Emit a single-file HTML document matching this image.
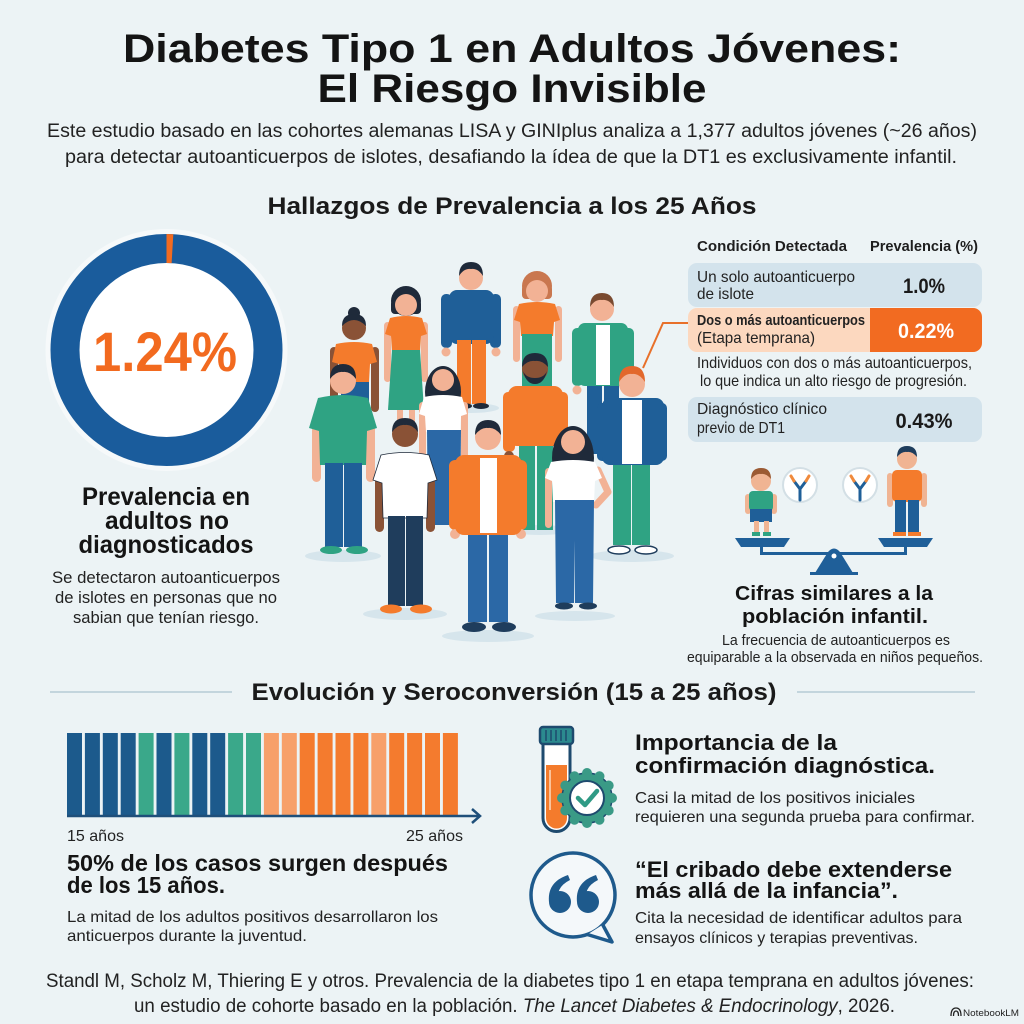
<!DOCTYPE html>
<html><head><meta charset="utf-8">
<style>
html,body{margin:0;padding:0;background:#ecf3f5;}
svg{display:block}
text{font-family:"Liberation Sans",sans-serif;}
</style></head><body>
<svg width="1024" height="1024" viewBox="0 0 1024 1024" xmlns="http://www.w3.org/2000/svg">
<rect width="1024" height="1024" fill="#ecf3f5"/>

<!-- Title -->
<g fill="#141414" font-weight="bold">
<text x="512" y="62" font-size="40" text-anchor="middle" textLength="778" lengthAdjust="spacingAndGlyphs">Diabetes Tipo 1 en Adultos Jóvenes:</text>
<text x="512" y="102" font-size="40" text-anchor="middle" textLength="389" lengthAdjust="spacingAndGlyphs">El Riesgo Invisible</text>
</g>
<g fill="#222" font-size="19">
<text x="512" y="137" text-anchor="middle" textLength="930" lengthAdjust="spacingAndGlyphs">Este estudio basado en las cohortes alemanas LISA y GINIplus analiza a 1,377 adultos jóvenes (~26 años)</text>
<text x="511" y="163" text-anchor="middle" textLength="892" lengthAdjust="spacingAndGlyphs">para detectar autoanticuerpos de islotes, desafiando la ídea de que la DT1 es exclusivamente infantil.</text>
</g>
<text x="512" y="214" font-size="24" font-weight="bold" fill="#1a1a1a" text-anchor="middle" textLength="489" lengthAdjust="spacingAndGlyphs">Hallazgos de Prevalencia a los 25 Años</text>

<!-- Donut -->
<circle cx="166.5" cy="350" r="121" fill="#f6f9fa"/>
<circle cx="166.5" cy="350" r="101.5" fill="#ffffff" stroke="#1a5c9c" stroke-width="29"/>
<circle cx="166.5" cy="350" r="101.5" fill="none" stroke="#f26b21" stroke-width="29" stroke-dasharray="6 632" transform="rotate(-90 166.5 350)"/>
<text x="165" y="371" font-size="56" font-weight="bold" fill="#f26a1f" text-anchor="middle" textLength="144" lengthAdjust="spacingAndGlyphs">1.24%</text>

<g fill="#141414" font-weight="bold" font-size="25" text-anchor="middle">
<text x="166" y="505" textLength="168" lengthAdjust="spacingAndGlyphs">Prevalencia en</text>
<text x="167" y="529" textLength="124" lengthAdjust="spacingAndGlyphs">adultos no</text>
<text x="166" y="553" textLength="175" lengthAdjust="spacingAndGlyphs">diagnosticados</text>
</g>
<g fill="#222" font-size="16.5" text-anchor="middle">
<text x="166" y="583" textLength="228" lengthAdjust="spacingAndGlyphs">Se detectaron autoanticuerpos</text>
<text x="166" y="603" textLength="222" lengthAdjust="spacingAndGlyphs">de islotes en personas que no</text>
<text x="166" y="623" textLength="186" lengthAdjust="spacingAndGlyphs">sabian que tenían riesgo.</text>
</g>

<!-- Table -->
<g fill="#1e1e1e" font-weight="bold" font-size="14.5">
<text x="697" y="251" textLength="150" lengthAdjust="spacingAndGlyphs">Condición Detectada</text>
<text x="870" y="251" textLength="108" lengthAdjust="spacingAndGlyphs">Prevalencia (%)</text>
</g>
<rect x="688" y="263" width="294" height="44" rx="9" fill="#d3e3ec"/>
<rect x="688" y="308" width="294" height="44" rx="9" fill="#fcd8bf"/>
<path d="M870,308 H973 A9,9 0 0 1 982,317 V343 A9,9 0 0 1 973,352 H870 Z" fill="#f26b21"/>
<rect x="688" y="397" width="294" height="45" rx="9" fill="#d3e3ec"/>
<g fill="#222" font-size="16">
<text x="697" y="282" textLength="158" lengthAdjust="spacingAndGlyphs">Un solo autoanticuerpo</text>
<text x="697" y="299" textLength="57" lengthAdjust="spacingAndGlyphs">de islote</text>
<text x="697" y="325" font-weight="bold" font-size="15" textLength="168" lengthAdjust="spacingAndGlyphs">Dos o más autoanticuerpos</text>
<text x="697" y="343" textLength="118" lengthAdjust="spacingAndGlyphs">(Etapa temprana)</text>
<text x="697" y="368" textLength="275" lengthAdjust="spacingAndGlyphs">Individuos con dos o más autoanticuerpos,</text>
<text x="700" y="386" textLength="267" lengthAdjust="spacingAndGlyphs">lo que indica un alto riesgo de progresión.</text>
<text x="697" y="414" textLength="130" lengthAdjust="spacingAndGlyphs">Diagnóstico clínico</text>
<text x="697" y="433" textLength="88" lengthAdjust="spacingAndGlyphs">previo de DT1</text>
</g>
<g font-weight="bold" font-size="21" text-anchor="middle">
<text x="924" y="293" fill="#1a1a1a" textLength="42" lengthAdjust="spacingAndGlyphs">1.0%</text>
<text x="926" y="338" fill="#ffffff" textLength="56" lengthAdjust="spacingAndGlyphs">0.22%</text>
<text x="924" y="428" fill="#1a1a1a" textLength="57" lengthAdjust="spacingAndGlyphs">0.43%</text>
</g>

<!-- Scale illustration -->
<g>
<circle cx="761" cy="481" r="10" fill="#f0b493"/>
<path d="M751,479 Q751,468 761,468 Q771,468 771,479 Q766,473 761,474 Q756,473 751,479Z" fill="#9b5a33"/>
<rect x="745" y="494" width="6" height="20" rx="3" fill="#f0b493"/>
<rect x="771" y="494" width="6" height="20" rx="3" fill="#f0b493"/>
<rect x="749" y="491" width="24" height="20" rx="4" fill="#2fa383"/>
<rect x="750" y="509" width="22" height="13" fill="#1f5f98"/>
<rect x="754" y="521" width="5" height="12" fill="#f0b493"/>
<rect x="764" y="521" width="5" height="12" fill="#f0b493"/>
<rect x="752" y="532" width="8" height="4" fill="#2fa383"/>
<rect x="763" y="532" width="8" height="4" fill="#2fa383"/>
<circle cx="907" cy="459" r="10" fill="#f0b493"/>
<path d="M897,457 Q897,446 907,446 Q917,446 917,457 Q912,451 907,452 Q902,451 897,457Z" fill="#1f3d5c"/>
<rect x="887" y="473" width="6" height="34" rx="3" fill="#f0b493"/>
<rect x="921" y="473" width="6" height="34" rx="3" fill="#f0b493"/>
<rect x="892" y="470" width="30" height="32" rx="5" fill="#f47b2c"/>
<rect x="895" y="500" width="11" height="34" fill="#1f5f98"/>
<rect x="908" y="500" width="11" height="34" fill="#1f5f98"/>
<rect x="893" y="532" width="13" height="4" fill="#f47b2c"/>
<rect x="908" y="532" width="13" height="4" fill="#f47b2c"/>
<circle cx="800" cy="485" r="17" fill="#ffffff" stroke="#d3dfe5" stroke-width="2"/>
<circle cx="860" cy="485" r="17" fill="#ffffff" stroke="#d3dfe5" stroke-width="2"/>
<g stroke-width="3" stroke-linecap="round" fill="none">
<path d="M800,500 V489 L794,481 M800,489 L806,481" stroke="#1f5f98"/>
<path d="M794,481 L791,476 M806,481 L809,476" stroke="#f08a3c"/>
<path d="M860,500 V489 L854,481 M860,489 L866,481" stroke="#1f5f98"/>
<path d="M854,481 L851,476 M866,481 L869,476" stroke="#f08a3c"/>
</g>
<path d="M735,538 H790 L784,547 H741 Z" fill="#1f5f99"/>
<path d="M878,538 H933 L927,547 H884 Z" fill="#1f5f99"/>
<rect x="760" y="546" width="3" height="8" fill="#1f5f99"/>
<rect x="904" y="546" width="3" height="8" fill="#1f5f99"/>
<rect x="760" y="552" width="147" height="3" fill="#1f5f99"/>
<path d="M815,573 L853,573 L840,552 Q834,545 828,552 Z" fill="#1f5f99"/>
<circle cx="834" cy="556" r="2.5" fill="#ffffff"/>
<rect x="810" y="572" width="48" height="3" fill="#1f5f99"/>
</g>
<g fill="#141414" font-weight="bold" font-size="20" text-anchor="middle">
<text x="834" y="600" textLength="198" lengthAdjust="spacingAndGlyphs">Cifras similares a la</text>
<text x="835" y="623" textLength="186" lengthAdjust="spacingAndGlyphs">población infantil.</text>
</g>
<g fill="#222" font-size="14.5" text-anchor="middle">
<text x="836" y="645" textLength="228" lengthAdjust="spacingAndGlyphs">La frecuencia de autoanticuerpos es</text>
<text x="835" y="662" textLength="296" lengthAdjust="spacingAndGlyphs">equiparable a la observada en niños pequeños.</text>
</g>

<!-- People -->
<g>
<ellipse cx="471" cy="408" rx="28" ry="5" fill="#d6e5ec"/>
<ellipse cx="343" cy="556" rx="38" ry="6" fill="#d6e5ec"/>
<ellipse cx="632" cy="556" rx="42" ry="6" fill="#d6e5ec"/>
<ellipse cx="405" cy="614" rx="42" ry="6" fill="#d6e5ec"/>
<ellipse cx="488" cy="636" rx="46" ry="6" fill="#d6e5ec"/>
<ellipse cx="575" cy="616" rx="40" ry="5" fill="#d6e5ec"/>
<ellipse cx="540" cy="530" rx="30" ry="5" fill="#d6e5ec"/>

<circle cx="354" cy="313" r="6" fill="#1f2a3a"/>
<circle cx="354" cy="328" r="12" fill="#8a5236"/>
<path d="M342,326 Q342,314 354,314 Q366,314 366,326 Q360,320 354,320 Q348,320 342,326Z" fill="#1f2a3a"/>
<rect x="330" y="347" width="8" height="65" rx="4" fill="#8a5236"/>
<rect x="371" y="347" width="8" height="65" rx="4" fill="#8a5236"/>
<rect x="341" y="380" width="28" height="40" fill="#1f5f98"/>
<path d="M336,344 Q354,340 372,344 L377,362 L370,364 L369,382 L340,382 L339,364 L332,362 Z" fill="#f47b2c"/>

<circle cx="406" cy="301" r="15" fill="#1f2a3a"/>
<rect x="391" y="300" width="30" height="14" rx="4" fill="#1f2a3a"/>
<circle cx="406" cy="305" r="11" fill="#f2b295"/>
<rect x="384" y="322" width="7" height="60" rx="3.5" fill="#f2b295"/>
<rect x="421" y="322" width="7" height="60" rx="3.5" fill="#f2b295"/>
<rect x="397" y="406" width="6" height="26" fill="#f2b295"/>
<rect x="409" y="406" width="6" height="26" fill="#f2b295"/>
<path d="M390,318 Q406,314 422,318 L427,334 L421,336 L420,352 L392,352 L391,336 L385,334 Z" fill="#f47b2c"/>
<path d="M392,350 L420,350 L424,410 L388,410 Z" fill="#2fa383"/>

<circle cx="471" cy="278" r="12" fill="#f2b295"/>
<path d="M459,276 Q459,262 471,262 Q483,262 483,276 Q478,268 471,269 Q464,268 459,276Z" fill="#1f2a3a"/>
<rect x="441" y="294" width="11" height="54" rx="5" fill="#1f5f98"/>
<rect x="490" y="294" width="11" height="54" rx="5" fill="#1f5f98"/>
<circle cx="446" cy="352" r="4.5" fill="#f2b295"/>
<circle cx="496" cy="352" r="4.5" fill="#f2b295"/>
<rect x="449" y="290" width="45" height="54" rx="8" fill="#1f5f98"/>
<rect x="457" y="340" width="14" height="64" fill="#f47b2c"/>
<rect x="472" y="340" width="14" height="64" fill="#f47b2c"/>
<ellipse cx="464" cy="406" rx="8" ry="3" fill="#1f2a3a"/>
<ellipse cx="481" cy="406" rx="8" ry="3" fill="#1f2a3a"/>

<circle cx="537" cy="286" r="15" fill="#c9774f"/>
<rect x="522" y="285" width="30" height="14" rx="4" fill="#c9774f"/>
<circle cx="537" cy="291" r="11" fill="#f2b295"/>
<rect x="513" y="306" width="7" height="56" rx="3.5" fill="#f2b295"/>
<rect x="555" y="306" width="7" height="56" rx="3.5" fill="#f2b295"/>
<path d="M519,304 Q537,300 555,304 L560,320 L554,322 L553,336 L521,336 L520,322 L514,320 Z" fill="#f47b2c"/>
<rect x="522" y="334" width="30" height="60" fill="#2fa383"/>

<circle cx="602" cy="309" r="12" fill="#f2b295"/>
<path d="M590,307 Q590,293 602,293 Q614,293 614,307 Q609,299 602,300 Q595,299 590,307Z" fill="#7a4a30"/>
<rect x="572" y="328" width="11" height="58" rx="5" fill="#2fa383"/>
<rect x="623" y="328" width="11" height="58" rx="5" fill="#2fa383"/>
<circle cx="577" cy="390" r="4.5" fill="#f2b295"/>
<circle cx="628" cy="390" r="4.5" fill="#f2b295"/>
<rect x="587" y="384" width="15" height="70" fill="#1f5f98"/>
<rect x="604" y="384" width="15" height="70" fill="#1f5f98"/>
<rect x="578" y="323" width="50" height="63" rx="7" fill="#2fa383"/>
<rect x="596" y="325" width="14" height="60" fill="#ffffff"/>

<polyline points="643,368 663,323 688,323" fill="none" stroke="#e8702a" stroke-width="2"/>

<circle cx="343" cy="381" r="13" fill="#f2b295"/>
<path d="M330,379 Q330,364 343,364 Q356,364 356,379 Q350,371 343,372 Q336,371 330,379Z" fill="#1f2a3a"/>
<rect x="312" y="420" width="9" height="62" rx="4.5" fill="#f2b295"/>
<rect x="366" y="420" width="9" height="62" rx="4.5" fill="#f2b295"/>
<path d="M318,398 Q343,392 368,398 L377,428 L367,431 L366,465 L320,465 L319,431 L309,428 Z" fill="#2fa383"/>
<rect x="325" y="463" width="18" height="84" fill="#1f5f98"/>
<rect x="344" y="463" width="18" height="84" fill="#1f5f98"/>
<ellipse cx="331" cy="550" rx="11" ry="4" fill="#2fa383"/>
<ellipse cx="357" cy="550" rx="11" ry="4" fill="#2fa383"/>

<ellipse cx="443" cy="392" rx="18" ry="26" fill="#1f2a3a"/>
<circle cx="443" cy="380" r="11" fill="#f2b295"/>
<rect x="419" y="402" width="7" height="60" rx="3.5" fill="#f2b295"/>
<rect x="461" y="402" width="7" height="60" rx="3.5" fill="#f2b295"/>
<path d="M424,397 Q443,393 462,397 L467,414 L461,416 L460,432 L426,432 L425,416 L419,414 Z" fill="#ffffff"/>
<path d="M427,430 L461,430 L460,525 L428,525 Z" fill="#2b68a6"/>

<circle cx="535" cy="369" r="13" fill="#8a5236"/>
<path d="M522,367 Q522,353 535,353 Q548,353 548,367 Q542,360 535,361 Q528,360 522,367Z" fill="#1f2a3a"/>
<path d="M523,371 Q526,384 535,384 Q544,384 547,371 Q544,378 535,378 Q526,378 523,371Z" fill="#1f2a3a"/>
<rect x="503" y="392" width="12" height="60" rx="5" fill="#f47b2c"/>
<rect x="556" y="392" width="12" height="60" rx="5" fill="#f47b2c"/>
<circle cx="509" cy="456" r="5" fill="#8a5236"/>
<circle cx="562" cy="456" r="5" fill="#8a5236"/>
<rect x="519" y="444" width="16" height="86" fill="#2fa383"/>
<rect x="537" y="444" width="16" height="86" fill="#2fa383"/>
<rect x="508" y="386" width="55" height="60" rx="9" fill="#f47b2c"/>

<circle cx="632" cy="384" r="13" fill="#f2b295"/>
<path d="M619,382 Q619,366 632,366 Q645,366 645,382 Q639,373 632,374 Q625,373 619,382Z" fill="#e2682c"/>
<rect x="597" y="403" width="12" height="58" rx="5" fill="#1f5f98"/>
<rect x="655" y="403" width="12" height="58" rx="5" fill="#1f5f98"/>
<rect x="613" y="463" width="18" height="82" fill="#2fa383"/>
<rect x="632" y="463" width="18" height="82" fill="#2fa383"/>
<rect x="602" y="398" width="62" height="67" rx="8" fill="#1f5f98"/>
<rect x="622" y="400" width="20" height="64" fill="#ffffff"/>
<ellipse cx="619" cy="550" rx="11" ry="4" fill="#ffffff" stroke="#1f3d5c" stroke-width="1.5"/>
<ellipse cx="646" cy="550" rx="11" ry="4" fill="#ffffff" stroke="#1f3d5c" stroke-width="1.5"/>

<circle cx="405" cy="434" r="13" fill="#8a5236"/>
<path d="M392,432 Q392,418 405,418 Q418,418 418,432 Q412,424 405,425 Q398,424 392,432Z" fill="#1f2a3a"/>
<rect x="375" y="470" width="9" height="62" rx="4.5" fill="#8a5236"/>
<rect x="426" y="470" width="9" height="62" rx="4.5" fill="#8a5236"/>
<path d="M381,455 Q405,450 429,455 L437,480 L428,483 L427,518 L383,518 L382,483 L373,480 Z" fill="#ffffff" stroke="#1f2a3a" stroke-width="0.8"/>
<rect x="388" y="516" width="17" height="90" fill="#1f3d5c"/>
<rect x="406" y="516" width="17" height="90" fill="#1f3d5c"/>
<ellipse cx="391" cy="609" rx="11" ry="4.5" fill="#f47b2c"/>
<ellipse cx="421" cy="609" rx="11" ry="4.5" fill="#f47b2c"/>

<circle cx="488" cy="437" r="13" fill="#f2b295"/>
<path d="M475,435 Q475,420 488,420 Q501,420 501,435 Q495,427 488,428 Q481,427 475,435Z" fill="#1f2a3a"/>
<rect x="449" y="460" width="13" height="70" rx="6" fill="#f47b2c"/>
<rect x="514" y="460" width="13" height="70" rx="6" fill="#f47b2c"/>
<circle cx="455" cy="534" r="5" fill="#f2b295"/>
<circle cx="521" cy="534" r="5" fill="#f2b295"/>
<rect x="468" y="532" width="19" height="90" fill="#2b68a6"/>
<rect x="489" y="532" width="19" height="90" fill="#2b68a6"/>
<rect x="455" y="455" width="67" height="80" rx="9" fill="#f47b2c"/>
<rect x="480" y="458" width="17" height="75" fill="#ffffff"/>
<ellipse cx="474" cy="627" rx="12" ry="5" fill="#1f3d5c"/>
<ellipse cx="504" cy="627" rx="12" ry="5" fill="#1f3d5c"/>

<ellipse cx="573" cy="458" rx="21" ry="32" fill="#1f2a3a"/>
<circle cx="573" cy="442" r="12" fill="#f2b295"/>
<rect x="545" y="468" width="7" height="60" rx="3.5" fill="#f2b295"/>
<path d="M598,470 L608,492 L596,505" fill="none" stroke="#f2b295" stroke-width="7" stroke-linecap="round" stroke-linejoin="round"/>
<path d="M551,462 Q573,458 595,462 L602,478 L595,481 L594,502 L553,502 L552,481 L545,478 Z" fill="#ffffff"/>
<path d="M555,500 L594,500 L593,603 L575,603 L574.5,540 L574,603 L556,603 Z" fill="#2b68a6"/>
<ellipse cx="564" cy="606" rx="9" ry="3.5" fill="#1f3d5c"/>
<ellipse cx="588" cy="606" rx="9" ry="3.5" fill="#1f3d5c"/>
</g>

<!-- Section 2 heading -->
<line x1="50" y1="692" x2="232" y2="692" stroke="#c3d5dd" stroke-width="2"/>
<line x1="797" y1="692" x2="975" y2="692" stroke="#c3d5dd" stroke-width="2"/>
<text x="514" y="700" font-size="24" font-weight="bold" fill="#1a1a1a" text-anchor="middle" textLength="525" lengthAdjust="spacingAndGlyphs">Evolución y Seroconversión (15 a 25 años)</text>

<!-- Bars -->
<g>
<rect x="67" y="733" width="15" height="82" fill="#1c5a8c"/>
<rect x="84.9" y="733" width="15" height="82" fill="#1c5a8c"/>
<rect x="102.8" y="733" width="15" height="82" fill="#1c5a8c"/>
<rect x="120.7" y="733" width="15" height="82" fill="#1c5a8c"/>
<rect x="138.6" y="733" width="15" height="82" fill="#3aa88a"/>
<rect x="156.5" y="733" width="15" height="82" fill="#1c5a8c"/>
<rect x="174.4" y="733" width="15" height="82" fill="#3aa88a"/>
<rect x="192.3" y="733" width="15" height="82" fill="#1c5a8c"/>
<rect x="210.2" y="733" width="15" height="82" fill="#1c5a8c"/>
<rect x="228.1" y="733" width="15" height="82" fill="#3aa88a"/>
<rect x="246" y="733" width="15" height="82" fill="#3aa88a"/>
<rect x="263.9" y="733" width="15" height="82" fill="#f7a06a"/>
<rect x="281.8" y="733" width="15" height="82" fill="#f7a06a"/>
<rect x="299.7" y="733" width="15" height="82" fill="#f47b2e"/>
<rect x="317.6" y="733" width="15" height="82" fill="#f47b2e"/>
<rect x="335.5" y="733" width="15" height="82" fill="#f47b2e"/>
<rect x="353.4" y="733" width="15" height="82" fill="#f47b2e"/>
<rect x="371.3" y="733" width="15" height="82" fill="#f7a06a"/>
<rect x="389.2" y="733" width="15" height="82" fill="#f47b2e"/>
<rect x="407.1" y="733" width="15" height="82" fill="#f47b2e"/>
<rect x="425" y="733" width="15" height="82" fill="#f47b2e"/>
<rect x="442.9" y="733" width="15" height="82" fill="#f47b2e"/>
<line x1="67" y1="816" x2="479" y2="816" stroke="#1f4f7a" stroke-width="2.5"/>
<polyline points="472,809 480,816 472,823" fill="none" stroke="#1f4f7a" stroke-width="2.5"/>
</g>
<g fill="#222" font-size="16">
<text x="67" y="841" textLength="57" lengthAdjust="spacingAndGlyphs">15 años</text>
<text x="406" y="841" textLength="57" lengthAdjust="spacingAndGlyphs">25 años</text>
</g>
<g fill="#141414" font-weight="bold" font-size="23">
<text x="67" y="871" textLength="381" lengthAdjust="spacingAndGlyphs">50% de los casos surgen después</text>
<text x="67" y="893" textLength="158" lengthAdjust="spacingAndGlyphs">de los 15 años.</text>
</g>
<g fill="#222" font-size="16">
<text x="67" y="922" textLength="371" lengthAdjust="spacingAndGlyphs">La mitad de los adultos positivos desarrollaron los</text>
<text x="67" y="941" textLength="240" lengthAdjust="spacingAndGlyphs">anticuerpos durante la juventud.</text>
</g>

<!-- Test tube icon -->
<g>
<path d="M543,743 V818 A13.5,13.5 0 0 0 570,818 V743" fill="#ffffff" stroke="#1e4a6e" stroke-width="3"/>
<path d="M546,765 H567 V818 A10.5,10.5 0 0 1 546,818 Z" fill="#f47b2c"/>
<rect x="549" y="770" width="2" height="40" fill="#fbc39b"/>
<rect x="540" y="727" width="33" height="17" rx="3" fill="#2b8a8f" stroke="#1e4a6e" stroke-width="2.5"/>
<g stroke="#1e4a6e" stroke-width="1.5">
<line x1="546" y1="730" x2="546" y2="741"/><line x1="551" y1="730" x2="551" y2="741"/><line x1="556" y1="730" x2="556" y2="741"/><line x1="561" y1="730" x2="561" y2="741"/><line x1="566" y1="730" x2="566" y2="741"/>
</g>
<circle cx="587" cy="798" r="25" fill="#3a9a86" stroke="#1e4a6e" stroke-width="1.5"/>
<g fill="#3a9a86">
<circle cx="612" cy="798" r="5"/><circle cx="608.7" cy="810.5" r="5"/><circle cx="599.5" cy="819.7" r="5"/><circle cx="587" cy="823" r="5"/><circle cx="574.5" cy="819.7" r="5"/><circle cx="565.3" cy="810.5" r="5"/><circle cx="562" cy="798" r="5"/><circle cx="565.3" cy="785.5" r="5"/><circle cx="574.5" cy="776.3" r="5"/><circle cx="587" cy="773" r="5"/><circle cx="599.5" cy="776.3" r="5"/><circle cx="608.7" cy="785.5" r="5"/>
</g>
<circle cx="587" cy="798" r="17" fill="#ffffff" stroke="#1e4a6e" stroke-width="2"/>
<polyline points="578,798 585,805 597,791" fill="none" stroke="#2f9a85" stroke-width="4.5" stroke-linecap="round" stroke-linejoin="round"/>
</g>

<!-- Speech bubble -->
<g>
<circle cx="573" cy="895" r="42" fill="#f4f8fa" stroke="#1e5a8c" stroke-width="3.5"/>
<polygon points="602.7,924.7 612,942 587.4,934.5" fill="#f4f8fa"/>
<polyline points="602.7,924.7 612,942 587.4,934.5" fill="none" stroke="#1e5a8c" stroke-width="3.5" stroke-linejoin="round"/>
<circle cx="560" cy="902" r="11" fill="#1e5a8c"/>
<path d="M549,902 Q547,882 568,875 L570,880 Q558,886 558,896 Z" fill="#1e5a8c"/>
<circle cx="588" cy="902" r="11" fill="#1e5a8c"/>
<path d="M577,902 Q575,882 596,875 L598,880 Q586,886 586,896 Z" fill="#1e5a8c"/>
</g>

<g fill="#141414" font-weight="bold" font-size="22">
<text x="635" y="750" textLength="202" lengthAdjust="spacingAndGlyphs">Importancia de la</text>
<text x="635" y="773" textLength="300" lengthAdjust="spacingAndGlyphs">confirmación diagnóstica.</text>
<text x="635" y="877" textLength="317" lengthAdjust="spacingAndGlyphs">“El cribado debe extenderse</text>
<text x="635" y="898" textLength="263" lengthAdjust="spacingAndGlyphs">más allá de la infancia”.</text>
</g>
<g fill="#222" font-size="16">
<text x="635" y="803" textLength="280" lengthAdjust="spacingAndGlyphs">Casi la mitad de los positivos iniciales</text>
<text x="635" y="822" textLength="340" lengthAdjust="spacingAndGlyphs">requieren una segunda prueba para confirmar.</text>
<text x="635" y="923" textLength="327" lengthAdjust="spacingAndGlyphs">Cita la necesidad de identificar adultos para</text>
<text x="635" y="943" textLength="283" lengthAdjust="spacingAndGlyphs">ensayos clínicos y terapias preventivas.</text>
</g>

<!-- Footer -->
<g fill="#222" font-size="19">
<text x="46" y="987" textLength="928" lengthAdjust="spacingAndGlyphs">Standl M, Scholz M, Thiering E y otros. Prevalencia de la diabetes tipo 1 en etapa temprana en adultos jóvenes:</text>
<text x="134" y="1012" textLength="761" lengthAdjust="spacingAndGlyphs">un estudio de cohorte basado en la población. <tspan font-style="italic">The Lancet Diabetes &amp; Endocrinology</tspan>, 2026.</text>
</g>
<g>
<path d="M951,1016 Q951,1008 956,1008 Q961,1008 961,1016 M953.5,1016 Q953.5,1011 956,1011 Q958.5,1011 958.5,1016" fill="none" stroke="#222" stroke-width="1.3"/>
<text x="963" y="1016" font-size="9.5" fill="#222" textLength="56" lengthAdjust="spacingAndGlyphs">NotebookLM</text>
</g>
</svg>
</body></html>
